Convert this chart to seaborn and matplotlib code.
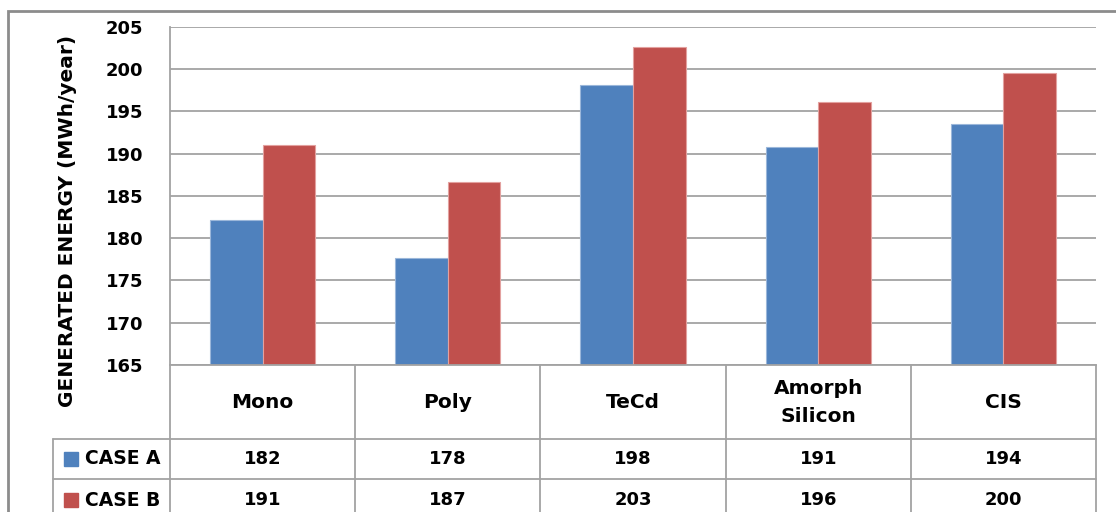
import seaborn as sns
import matplotlib.pyplot as plt
import pandas as pd
from matplotlib.patches import Rectangle

# values
categories = ['Mono', 'Poly', 'TeCd', 'Amorph\nSilicon', 'CIS']
series = ['CASE A', 'CASE B']
case_a = [182.2, 177.7, 198.1, 190.8, 193.5]
case_b = [191.0, 186.7, 202.6, 196.1, 199.6]
yticks = [165, 170, 175, 180, 185, 190, 195, 200, 205]

colors = ['#4F81BD', '#C0504D']
edges = ['#9BB7DA', '#E3A19F']
grid_col = '#A3A3A3'

df = pd.DataFrame({
    'category': categories * 2,
    'series': [series[0]] * len(categories) + [series[1]] * len(categories),
    'value': case_a + case_b,
})

sns.set_style('white')
plt.rcParams['font.family'] = ['DejaVu Sans']
plt.rcParams['font.weight'] = 'bold'
plt.rcParams['font.size'] = 13
plt.rcParams['text.color'] = 'black'
plt.rcParams['ytick.color'] = 'black'
plt.rcParams['axes.labelcolor'] = 'black'

W, H = 1116, 512
fig = plt.figure(figsize=(W / 100, H / 100), dpi=100)
ax = fig.add_axes([170 / W, 1 - 365 / H, 926 / W, 338 / H])

sns.barplot(data=df, x='category', y='value', hue='series', palette=colors,
            width=0.567, saturation=1, linewidth=0.8, legend=False, ax=ax)
for cont, ec in zip(ax.containers, edges):
    for bar in cont:
        bar.set_edgecolor(ec)

ax.set_ylim(165, 205)
ax.set_xlim(-0.5, len(categories) - 0.5)
ax.set_yticks(yticks)
ax.yaxis.grid(True, color=grid_col, lw=1.3)
ax.set_axisbelow(True)
ax.tick_params(axis='y', length=0, pad=19, labelsize=13, labelcolor='black')
ax.tick_params(axis='x', length=0, labelbottom=False)
ax.set_xlabel('')
ax.set_ylabel('GENERATED ENERGY (MWh/year)', fontsize=14.5, fontweight='bold', color='black')
ax.yaxis.set_label_coords(-0.1, 0.426)
for s in ['top', 'right']:
    ax.spines[s].set_visible(False)
for s in ['left', 'bottom']:
    ax.spines[s].set_color(grid_col)
    ax.spines[s].set_linewidth(1.3)

# data table under the plot (x in data units, y in axes units)
trans = ax.get_xaxis_transform()
row_y = [0, -0.219, -0.337, -0.46]
left_x = -1.132
line_kw = dict(transform=trans, clip_on=False, color=grid_col, lw=1.3)
for k in range(len(categories) + 1):
    ax.plot([k - 0.5, k - 0.5], [row_y[0], row_y[-1]], **line_kw)
ax.plot([left_x, left_x], [row_y[1], row_y[-1]], **line_kw)
for y in row_y[1:]:
    ax.plot([left_x, len(categories) - 0.5], [y, y], **line_kw)

for i, cat in enumerate(categories):
    ax.text(i, -0.11, cat, transform=trans, ha='center', va='center',
            fontsize=14.5, fontweight='bold', linespacing=1.6, color='black')

row_centers = [-0.278, -0.40]
for name, vals, col, yc in zip(series, [case_a, case_b], colors, row_centers):
    ax.plot([-1.037], [yc], marker='s', markersize=9.5, color=col,
            transform=trans, clip_on=False, linestyle='none')
    ax.text(-0.96, yc, name, transform=trans, ha='left', va='center',
            fontsize=13.5, fontweight='bold', color='black')
    for i, v in enumerate(vals):
        ax.text(i, yc, f'{v:.0f}', transform=trans, ha='center', va='center',
                fontsize=13, fontweight='bold', color='black')

# outer chart border (only left and top fall inside the image)
fig.add_artist(Rectangle((8 / W, -0.2), 1.2, 1.2 - 11 / H, transform=fig.transFigure,
                         fill=False, edgecolor='#8C8C8C', lw=2))

fig.savefig('out.png', dpi=100)
